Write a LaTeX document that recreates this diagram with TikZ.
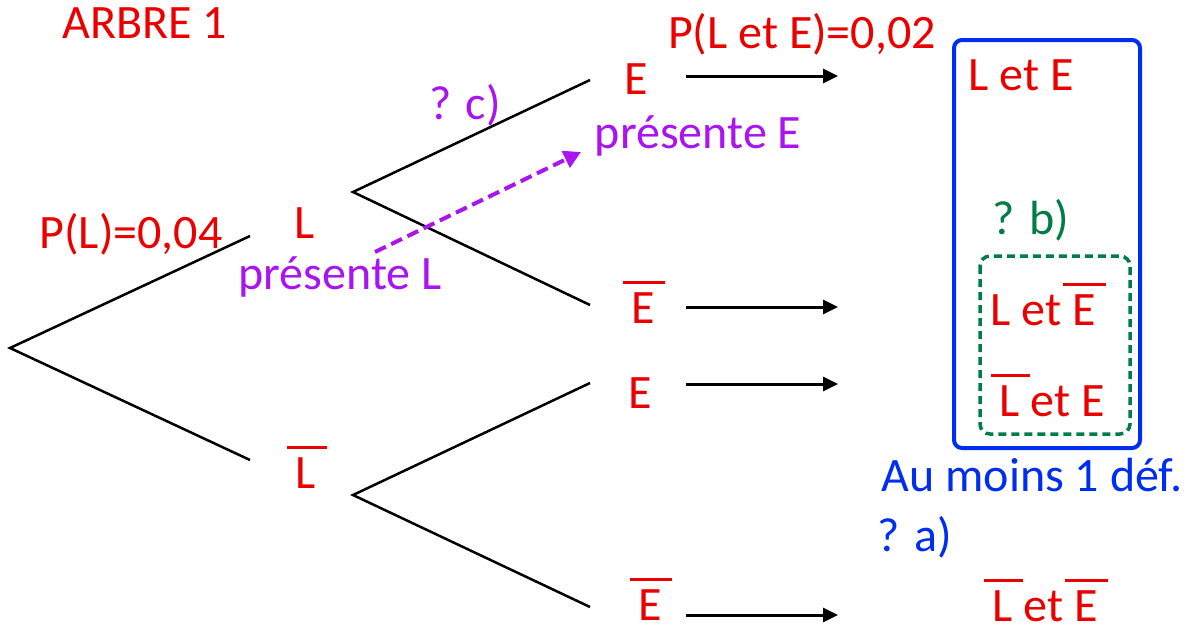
\documentclass[tikz,border=0pt]{standalone}
\usepackage{fontspec}
\setmainfont{Carlito}
\usetikzlibrary{arrows.meta}
\definecolor{rouge}{RGB}{235,0,0}
\definecolor{mauve}{RGB}{170,20,240}
\definecolor{bleu}{RGB}{0,45,240}
\definecolor{vert}{RGB}{0,125,70}
\newcommand{\barre}[1]{\leavevmode\setbox0=\hbox{#1}\rlap{\kern-0.18em\raisebox{0.82em}{\rule{\dimexpr\wd0+0.4em\relax}{0.06em}}}\box0\relax}
\begin{document}
\begin{tikzpicture}[
    x=0.5pt, y=-0.5pt,
    font=\fontsize{24}{29}\selectfont,
    txt/.style={anchor=base, inner sep=0pt, text=rouge},
    branche/.style={line width=1.25pt, black},
    fleche/.style={-{Triangle[length=7.5pt,width=7pt]}, line width=1.5pt, black},
    pointille/.style={-{Triangle[length=8.5pt,width=9pt]}, line width=2pt, mauve, dash pattern=on 6pt off 3pt},
    cadre/.style={line width=2pt, bleu, rounded corners=4pt},
    cadrevert/.style={line width=1.75pt, vert, dash pattern=on 4pt off 2.5pt, rounded corners=5pt}
]
\useasboundingbox (0,0) rectangle (1188,632);

\node[txt] (titre) at (145,38) {ARBRE 1};
\node[txt] (pL) at (131,248) {P(L)=0,04};
\node[txt] (L) at (305,238) {L};
\node[txt] (Lb) at (306,488) {\barre{L}};
\node[txt, text=mauve] (qc) at (465,119) {? c)};
\node[txt, text=mauve] (presL) at (340,289) {présente L};
\node[txt] (E1) at (636,94) {E};
\node[txt, text=mauve] (presE) at (698,148) {présente E};
\node[txt] (pLE) at (802,48) {P(L et E)=0,02};
\node[txt] (E2) at (643,323) {\barre{E}};
\node[txt] (E3) at (640,408) {E};
\node[txt] (E4) at (650,620) {\barre{E}};

\node[txt] (LE) at (1021,90) {L et E};
\node[txt, text=vert] (qb) at (1031,234) {? b)};
\node[txt] (LEb) at (1043,325) {L et \barre{E}};
\node[txt] (LbE) at (1052,416) {\barre{L} et E};
\node[txt, text=bleu] (aumoins) at (1032,491) {Au moins 1 déf.};
\node[txt, text=bleu] (qa) at (915,551) {? a)};
\node[txt] (LbEb) at (1045,621) {\barre{L} et \barre{E}};

\coordinate (racine) at (10,348);
\coordinate (fL) at (250,236);
\coordinate (fLb) at (250,460);
\coordinate (dL) at (353,192);
\coordinate (dLb) at (353,495);
\coordinate (fLE) at (590,80);
\coordinate (fLEb) at (590,305);
\coordinate (fLbE) at (590,383);
\coordinate (fLbEb) at (590,607);

\draw[branche] (fL) -- (racine) -- (fLb);
\draw[branche] (fLE) -- (dL) -- (fLEb);
\draw[branche] (fLbE) -- (dLb) -- (fLbEb);

\foreach \y/\n in {76/1, 307/2, 384/3, 615/4} {
    \coordinate (d\n) at (686,\y);
    \coordinate (a\n) at (838,\y);
    \draw[fleche] (d\n) -- (a\n);
}

\coordinate (depL) at (375,252);
\coordinate (arrE) at (581,152);
\draw[pointille] (depL) -- (arrE);

\draw[cadre] (954,40) rectangle (1140,448);
\draw[cadrevert] (980,256) rectangle (1130,434);
\end{tikzpicture}
\end{document}
